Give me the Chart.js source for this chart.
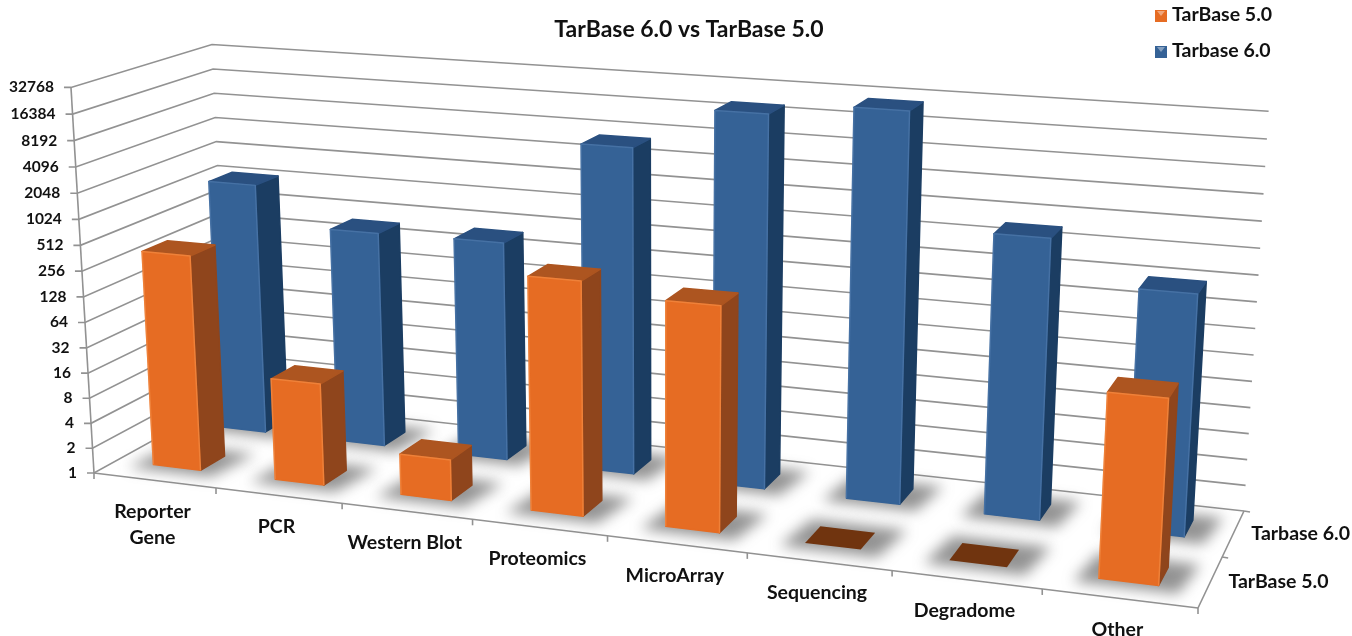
<!DOCTYPE html>
<html><head><meta charset="utf-8">
<script src="https://cdn.jsdelivr.net/npm/chart.js@4"></script>
<style>html,body{margin:0;padding:0;background:#fff}#w{width:1352px;height:636px}</style>
</head><body><div id="w"><canvas id="c" width="1352" height="636"></canvas></div>
<script>
const categories = [["Reporter","Gene"],"PCR","Western Blot","Proteomics","MicroArray","Sequencing","Degradome","Other"];
const tarbase5 = [365,16,3,480,355,1,1,103];
const tarbase6 = [1150,400,415,7000,21500,29500,1550,520];
const yTicks = [1,2,4,8,16,32,64,128,256,512,1024,2048,4096,8192,16384,32768];
const titleText = "TarBase 6.0 vs TarBase 5.0";
const seriesNames = ["TarBase 5.0","Tarbase 6.0"];

// view: floor corners on screen (u along categories, w in depth) plus the vertical part of the camera
const FLOOR = {a:[94,473],b:[1198,608],c:[228,399],d:[1244,511]};
const CAM = {ax:-25.8,ay:-389,i:-0.039};
const ROWS = [0.25,0.75], ROW_DEPTH = 0.18;
const FONT = 'Lato, "Open Sans", sans-serif';
const SKIN = [
 {front:'#e66c23',side:'#8f451c',top:'#ad5520',hi:'rgba(255,170,100,.35)',flat:'#70340f'},
 {front:'#356296',side:'#1b3d62',top:'#2a5080',hi:'rgba(130,170,215,.22)',flat:'#1b3d62'}
];
function homog(q){
 const [x0,y0]=q.a,[x1,y1]=q.b,[x2,y2]=q.c,[x3,y3]=q.d;
 const dx1=x1-x3,dy1=y1-y3,dx2=x2-x3,dy2=y2-y3,sx=x0-x1+x3-x2,sy=y0-y1+y3-y2;
 const det=dx1*dy2-dx2*dy1;
 const g=(sx*dy2-dx2*sy)/det,h=(dx1*sy-sx*dy1)/det;
 return (u,w)=>[x0+(x1*(1+g)-x0)*u+(x2*(1+h)-x0)*w,y0+(y1*(1+g)-y0)*u+(y2*(1+h)-y0)*w,1+g*u+h*w];
}
const HF=homog(FLOOR);
function P(u,w,v){const f=HF(u,w),d=f[2]+CAM.i*v;
 return [(f[0]+CAM.ax*v)/d,(f[1]+CAM.ay*v)/d];}
function poly(ctx,pts){ctx.beginPath();pts.forEach((p,i)=>i?ctx.lineTo(p[0],p[1]):ctx.moveTo(p[0],p[1]));ctx.closePath();}
function line(ctx,a,b){ctx.beginPath();ctx.moveTo(a[0],a[1]);ctx.lineTo(b[0],b[1]);ctx.stroke();}
function geom(chart,el){const a=chart.chartArea;
 const W=a.right-a.left,H=a.bottom-a.top;
 return {u0:(el.x-el.width/2-a.left)/W,u1:(el.x+el.width/2-a.left)/W,
  v:(a.bottom-el.y)/H,v0:(a.bottom-el.base)/H};}

const view3d={id:'view3d',
 beforeDatasetsDraw(chart){
  const ctx=chart.ctx,y=chart.scales.y,a=chart.chartArea,H=a.bottom-a.top;
  ctx.save();ctx.strokeStyle='#929292';ctx.lineWidth=1.6;
  yTicks.forEach(t=>{const v=(a.bottom-y.getPixelForValue(t))/H;
   const f=P(0,0,v),b=P(0,1,v),r=P(1,1,v);
   ctx.beginPath();ctx.moveTo(f[0]-7,f[1]);ctx.lineTo(f[0],f[1]);ctx.lineTo(b[0],b[1]);ctx.lineTo(r[0],r[1]);ctx.stroke();});
  line(ctx,P(0,0,0),P(0,0,1));
  const n=categories.length;
  line(ctx,P(0,0,0),P(1,0,0));line(ctx,P(1,0,0),P(1,1,0));
  for(let i=0;i<=n;i++){const p=P(i/n,0,0);line(ctx,p,[p[0],p[1]+6]);}
  [0.5,1].forEach(w=>{const p=P(1,w,0);line(ctx,p,[p[0]+6,p[1]+1]);});
  ctx.restore();
  ctx.save();ctx.filter='blur(7px)';ctx.fillStyle='rgba(80,80,80,.62)';
  chart.data.datasets.forEach((d,di)=>{chart.getDatasetMeta(di).data.forEach(el=>{
   const g=geom(chart,el),w0=ROWS[di]-ROW_DEPTH/2-.055,w1=ROWS[di]+ROW_DEPTH/2+.06,du=.018;
   poly(ctx,[P(g.u0-du,w0,0),P(g.u1+du,w0,0),P(g.u1+du+.006,w1,0),P(g.u0-du+.006,w1,0)]);ctx.fill();});});
  ctx.restore();
 },
 beforeDatasetDraw(chart,args){
  const ctx=chart.ctx,di=args.index,s=SKIN[di],meta=chart.getDatasetMeta(di);
  const w0=ROWS[di]-ROW_DEPTH/2,w1=ROWS[di]+ROW_DEPTH/2;
  ctx.save();ctx.lineJoin='round';
  meta.data.forEach(el=>{
   const g=geom(chart,el);
   const top=[P(g.u0,w0,g.v),P(g.u1,w0,g.v),P(g.u1,w1,g.v),P(g.u0,w1,g.v)];
   if(g.v-g.v0<1e-4){ctx.fillStyle=s.flat;poly(ctx,top);ctx.fill();return;}
   const front=[P(g.u0,w0,g.v0),P(g.u1,w0,g.v0),P(g.u1,w0,g.v),P(g.u0,w0,g.v)];
   const side=[P(g.u1,w0,g.v0),P(g.u1,w1,g.v0),P(g.u1,w1,g.v),P(g.u1,w0,g.v)];
   ctx.lineWidth=1.5;
   [[side,s.side],[top,s.top],[front,s.front]].forEach(([f,c])=>{ctx.fillStyle=c;ctx.strokeStyle=c;poly(ctx,f);ctx.fill();ctx.stroke();});
   ctx.strokeStyle=s.hi;ctx.lineWidth=1.5;
   ctx.beginPath();ctx.moveTo(front[1][0],front[1][1]);ctx.lineTo(front[2][0],front[2][1]);ctx.lineTo(front[3][0],front[3][1]);ctx.lineTo(front[0][0],front[0][1]);ctx.stroke();
  });
  ctx.restore();
  return false;
 },
 afterDraw(chart){
  const ctx=chart.ctx,y=chart.scales.y,a=chart.chartArea,H=a.bottom-a.top;
  ctx.save();ctx.fillStyle='#111';ctx.textBaseline='middle';
  ctx.font='bold 15.5px '+FONT;ctx.textAlign='right';
  y.ticks.forEach(t=>{const p=P(0,0,(a.bottom-y.getPixelForValue(t.value))/H);
   ctx.fillText(String(t.value),p[0]-17,p[1]);});
  ctx.font='bold 19.5px '+FONT;ctx.textAlign='center';
  categories.forEach((c,i)=>{const p=P((i+.5)/categories.length,0,0);
   const ls=Array.isArray(c)?c:[c];
   ls.forEach((t,k)=>ctx.fillText(t,p[0]-2,p[1]+31+k*26));});
  ctx.textAlign='left';
  chart.data.datasets.forEach((d,i)=>{const p=P(1,ROWS[i],0);ctx.fillText(d.label,p[0]+18,p[1]);});
  const lx=1155,ly=[16,52];
  chart.data.datasets.forEach((d,i)=>{
   ctx.fillStyle=d.backgroundColor;ctx.fillRect(lx,ly[i]-6,12,12);
   ctx.fillStyle='rgba(255,255,255,.4)';ctx.beginPath();ctx.moveTo(lx+2,ly[i]-5);ctx.lineTo(lx+10,ly[i]-5);ctx.lineTo(lx+6,ly[i]);ctx.closePath();ctx.fill();
   ctx.fillStyle='#111';ctx.fillText(d.label,lx+17,ly[i]-1);});
  ctx.restore();
 }
};
new Chart(document.getElementById('c'),{
 type:'bar',
 data:{labels:categories,datasets:[
  {label:seriesNames[0],data:tarbase5,backgroundColor:SKIN[0].front,grouped:false},
  {label:seriesNames[1],data:tarbase6,backgroundColor:SKIN[1].front,grouped:false}]},
 plugins:[view3d],
 options:{responsive:false,animation:false,devicePixelRatio:1,
  layout:{padding:{left:26,right:0,top:8,bottom:20}},
  datasets:{bar:{barPercentage:.39,categoryPercentage:1}},
  plugins:{legend:{display:false},tooltip:{enabled:false},
   title:{display:true,text:titleText,color:'#111',font:{family:FONT,size:23,weight:'bold'},padding:{top:8,bottom:8}}},
  scales:{
   x:{type:'category',grid:{display:false},border:{display:false},ticks:{display:false}},
   y:{type:'logarithmic',min:1,max:32768,grid:{display:false},border:{display:false},ticks:{display:false},
      afterBuildTicks(sc){sc.ticks=yTicks.map(v=>({value:v}));}}
  }}
});
</script></body></html>
